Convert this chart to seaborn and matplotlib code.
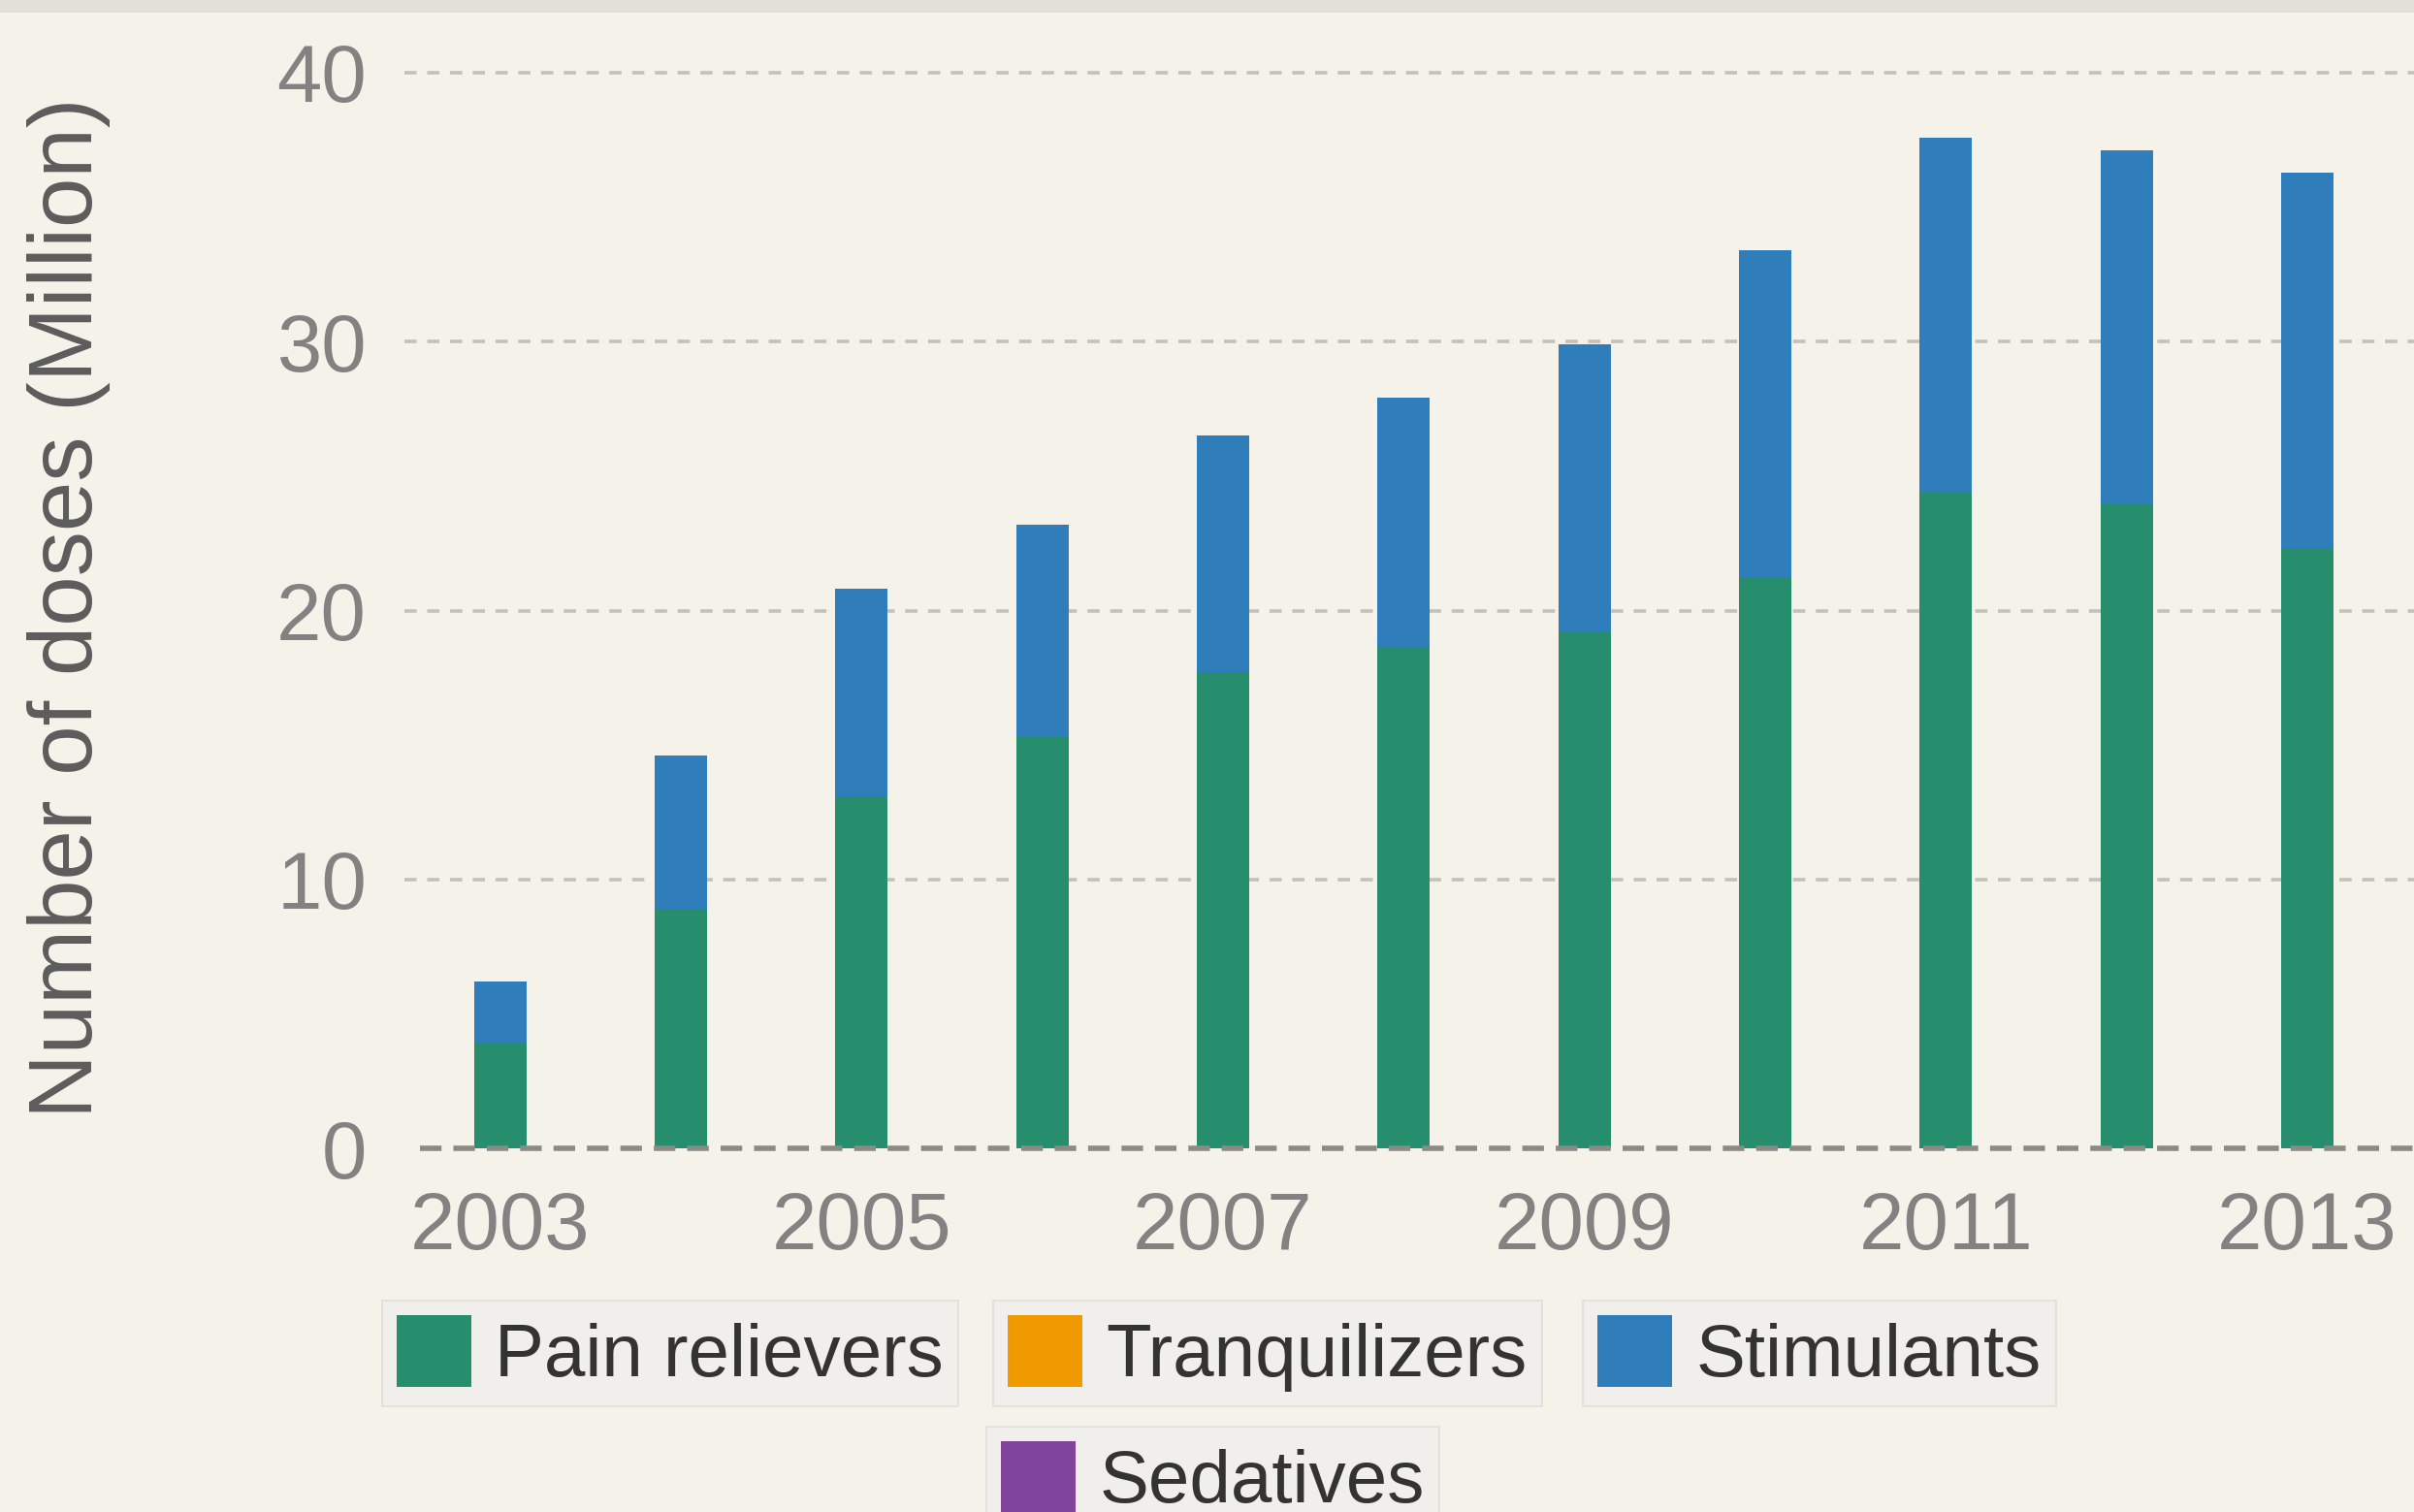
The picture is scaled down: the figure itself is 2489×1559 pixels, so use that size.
import matplotlib
matplotlib.use("Agg")
import matplotlib.pyplot as plt
import matplotlib.patches as mpatches
import pandas as pd
import seaborn as sns

# values (million doses)
years = [2003, 2004, 2005, 2006, 2007, 2008, 2009, 2010, 2011, 2012, 2013]
pain_relievers = [3.9, 8.9, 13.1, 15.3, 17.7, 18.6, 19.2, 21.2, 24.4, 24.0, 22.3]
tranquilizers = [0, 0, 0, 0, 0, 0, 0, 0, 0, 0, 0]
stimulants = [2.3, 5.7, 7.7, 7.9, 8.8, 9.3, 10.7, 12.2, 13.2, 13.1, 14.0]
sedatives = [0, 0, 0, 0, 0, 0, 0, 0, 0, 0, 0]

series_names = ["Pain relievers", "Tranquilizers", "Stimulants", "Sedatives"]
series_colors = ["#268E6D", "#EE9A00", "#2F7DBA", "#81449D"]
xtick_years = [2003, 2005, 2007, 2009, 2011, 2013]
yticks = [0, 10, 20, 30, 40]

df = pd.DataFrame({"Year": years, "Pain relievers": pain_relievers,
                   "Tranquilizers": tranquilizers, "Stimulants": stimulants,
                   "Sedatives": sedatives})

bg = "#F5F2EA"
sns.set_style("white")
plt.rcParams['font.family'] = ['Liberation Sans', 'DejaVu Sans']

fig = plt.figure(figsize=(24.89, 15.59), dpi=100, facecolor=bg)
# grey strip along the top
fig.patches.append(mpatches.Rectangle((0, 1 - 13 / 1559), 1, 13 / 1559, transform=fig.transFigure,
                                      facecolor="#E3E0DA", edgecolor="none", zorder=0))
ax = fig.add_axes([0.1675, 0.2405, 0.8325, 0.7114])
ax.set_facecolor(bg)

# stacked bars: draw cumulative totals from the top layer down
cum = df[series_names].cumsum(axis=1)
for name, color in reversed(list(zip(series_names, series_colors))):
    sns.barplot(x=df["Year"], y=cum[name], color=color, native_scale=True, width=0.29,
                linewidth=0, saturation=1, ax=ax, zorder=2)

ax.set_xlim(2002.47, 2013.59)
ax.set_ylim(0, 40)
ax.set_yticks(yticks)
ax.set_xticks(xtick_years)
ax.set_xticklabels([str(y) for y in xtick_years])
for y in yticks[1:]:
    ax.axhline(y, color="#C4C1BB", lw=2.6, ls=(0, (3.5, 3)), zorder=1, clip_on=False)
ax.axhline(0, xmin=0.008, color="#8C8A86", lw=4, ls=(0, (4, 2.2)), zorder=3, clip_on=False)

ax.tick_params(axis="both", length=0, labelsize=60, labelcolor="#828282")
ax.tick_params(axis="y", pad=28)
ax.tick_params(axis="x", pad=31)
ax.set_xlabel("")
ax.set_ylabel("")
sns.despine(ax=ax, left=True, bottom=True)

fig.text(71 / 2489, 0.598, "Number of doses (Million)", rotation=90, ha="center", va="center",
         fontsize=66.5, color="#5C5C5C")

# one boxed legend per series
anchors = [(0.1583, 0.1398), (0.4114, 0.1398), (0.6557, 0.1398), (0.4086, 0.0564)]
for name, color, anchor in zip(series_names, series_colors, anchors):
    leg = fig.legend(handles=[mpatches.Patch(facecolor=color, edgecolor="none")], labels=[name],
                     loc="upper left", bbox_to_anchor=anchor, bbox_transform=fig.transFigure,
                     borderaxespad=0, frameon=True, fancybox=False, fontsize=55,
                     handlelength=1.0, handleheight=1.1, handletextpad=0.32, borderpad=0.2)
    leg.get_frame().set_facecolor("#EFEFED")
    leg.get_frame().set_edgecolor("#DCDAD5")
    leg.get_frame().set_linewidth(1.2)
    for t in leg.get_texts():
        t.set_color("#333333")

fig.savefig("out.png", dpi=100, facecolor=bg)
